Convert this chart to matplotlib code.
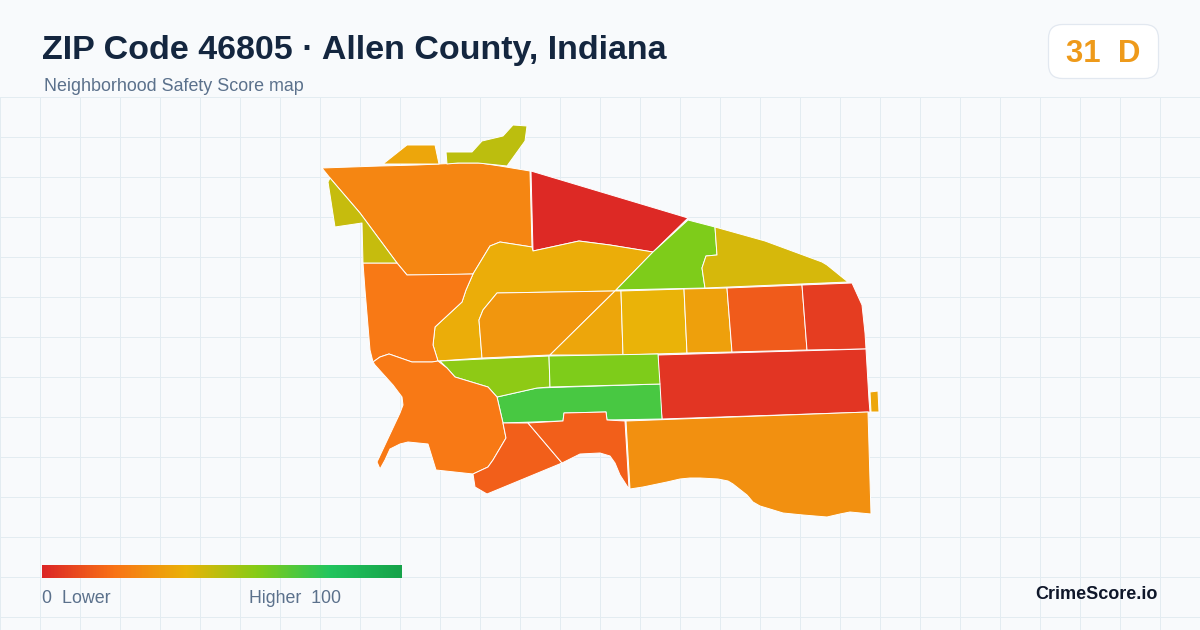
import numpy as np
import matplotlib
matplotlib.use("Agg")
import matplotlib.pyplot as plt
from matplotlib.colors import LinearSegmentedColormap
from matplotlib.patches import FancyBboxPatch

plt.rcParams['font.family'] = ['Liberation Sans', 'DejaVu Sans']

TITLE = "ZIP Code 46805 · Allen County, Indiana"
SUBTITLE = "Neighborhood Safety Score map"
BADGE = "31  D"
BRAND = "CrimeScore.io"
LEGEND_LOW = "0  Lower"
LEGEND_HIGH = "Higher  100"

ramp_stops = [0, 0.2, 0.4, 0.6, 0.8, 1.0]
ramp_colors = ["#dc2626", "#f97316", "#eab308", "#84cc16", "#22c55e", "#16a34a"]

# Neighbourhood outlines (map coordinates) and scores
nw_large = [(322,168),(380,166),(417,165),(460,163),(480,163),(500,166),(530,171),(532,247),(500,242),(490,246),(473,274),(441,275),(407,275),(397,263),(360,213),(330,178)]
north_red = [(531,171),(688,218),(653,252),(610,245),(579,241),(533,251)]
strip = [(490,246),(500,242),(532,247),(533,251),(579,241),(610,245),(653,252),(615,291),(497,293),(483,310),(479,320),(482,358),(438,361),(433,345),(435,327),(462,302),(466,290),(473,274)]
center_w = [(497,293),(615,291),(550,355),(482,358),(479,320),(483,310)]
center_tri = [(615,291),(621,291),(623,355),(550,355)]
cell_h = [(621,291),(684,289),(687,353),(623,355)]
cell_i = [(684,289),(727,288),(732,352),(687,353)]
cell_j = [(727,288),(802,285),(807,350),(732,352)]
cell_k = [(802,285),(852,283),(862,305),(865,333),(866,349),(807,350)]
lime_n = [(688,220),(715,227),(717,255),(706,256),(702,268),(705,288),(616,290),(653,252)]
olive_ne = [(715,227),(765,241),(822,262),(827,265),(848,282),(705,288),(702,268),(706,256),(717,255)]
east_red = [(658,355),(866,349),(869,400),(870,412),(662,419),(659,385)]
east_tiny = [(870,392),(878,391),(879,412),(871,412)]
south_e = [(626,421),(868,412),(871,514),(850,512),(840,514),(827,517),(803,515),(783,513),(770,509),(760,506),(753,502),(747,495),(733,484),(728,481),(718,479),(700,478),(690,478),(680,479),(667,482),(643,487),(630,489)]
green_band = [(497,397),(537,388),(660,384),(662,419),(607,420),(606,412),(564,413),(563,421),(503,423)]
lime_w = [(440,361),(549,356),(550,387),(537,388),(497,397),(488,387),(455,377),(447,368)]
lime_e = [(549,356),(658,354),(660,384),(550,387)]
west = [(363,263),(397,263),(407,275),(473,274),(466,290),(462,302),(435,327),(433,345),(438,361),(432,362),(412,362),(389,354),(380,357),(373,362),(370,350),(365,290)]
southwest = [(373,362),(380,357),(389,354),(412,362),(432,362),(438,361),(447,368),(455,377),(488,387),(497,397),(503,423),(506,438),(493,460),(488,467),(473,474),(436,470),(428,444),(408,442),(400,444),(390,449),(385,460),(380,469),(377,462),(400,413),(403,405),(402,397),(393,385),(375,365)]
south_a = [(503,423),(528,423),(562,463),(487,494),(475,487),(473,474),(488,467),(493,460),(506,438)]
south_b = [(528,423),(563,421),(564,413),(606,412),(607,420),(625,421),(629,489),(620,475),(615,463),(610,456),(600,453),(580,454),(562,463)]
top_a = [(383,164),(407,145),(435,145),(439,164)]
top_b = [(446,152),(472,152),(482,141),(503,136),(513,125),(527,126),(525,141),(507,166),(478,163),(458,163),(447,164)]
olive_w = [(328,182),(335,227),(362,223),(363,263),(397,263),(360,213),(330,178)]

regions = [nw_large, north_red, strip, center_w, center_tri, cell_h, cell_i, cell_j, cell_k,
           lime_n, olive_ne, east_red, east_tiny, south_e, green_band, lime_w, lime_e,
           west, southwest, south_a, south_b, top_a, top_b, olive_w]
scores = [26, 1, 38, 31, 36, 40, 34, 14, 6,
          61, 44, 4, 36, 29, 72, 58, 61,
          22, 22, 15, 15, 36, 49, 47]

cmap = LinearSegmentedColormap.from_list("safety", list(zip(ramp_stops, ramp_colors)))

fig = plt.figure(figsize=(12, 6.3), dpi=100, facecolor="#f8fafc")
ax = fig.add_axes([0, 0, 1, 1])
ax.set_facecolor("#f8fafc")
ax.axis("off")

grid_col = "#e3ecf1"
for x in np.arange(0, 1201, 40):
    ax.plot([x, x], [97, 630], color=grid_col, lw=0.72, zorder=1)
for y in np.arange(97, 631, 40):
    ax.plot([0, 1200], [y, y], color=grid_col, lw=0.72, zorder=1)

for poly, score in zip(regions, scores):
    xs, ys = zip(*poly)
    ax.fill(xs, ys, facecolor=cmap(score / 100), edgecolor="white", lw=0.7,
            joinstyle="round", zorder=2)

ax.text(42, 59, TITLE, fontsize=24.45, fontweight="bold", color="#14263f", va="baseline", zorder=5)
ax.text(44, 91, SUBTITLE, fontsize=12.9, color="#5b718c", va="baseline", zorder=5)

ax.add_patch(FancyBboxPatch((1048.5, 24.5), 110, 54, boxstyle="round,pad=0,rounding_size=14",
                            facecolor="white", edgecolor="#e2e8f0", lw=0.9, zorder=4))
ax.text(1103, 62, BADGE, fontsize=22.4, fontweight="bold", color="#ee9a1a", ha="center", va="baseline", zorder=5)

gradient = np.linspace(0, 1, 360).reshape(1, -1)
ax.imshow(gradient, cmap=cmap, extent=[42, 402, 578, 565], aspect="auto", zorder=4, interpolation="bilinear")

ax.text(42, 603, LEGEND_LOW, fontsize=12.9, color="#5b718c", va="baseline", zorder=5)
ax.text(249, 603, LEGEND_HIGH, fontsize=12.8, color="#5b718c", va="baseline", zorder=5)
ax.text(1158, 599, BRAND, fontsize=13, fontweight="bold", color="#0f172a", ha="right", va="baseline", zorder=5)

ax.set_xlim(0, 1200)
ax.set_ylim(630, 0)

fig.savefig("out.png", dpi=100, facecolor=fig.get_facecolor())
